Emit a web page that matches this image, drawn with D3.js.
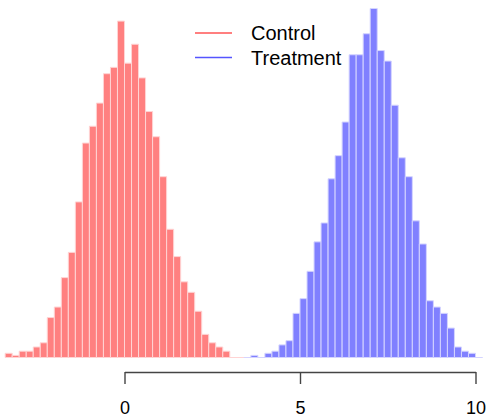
<!DOCTYPE html>
<html>
<head>
<meta charset="utf-8">
<script src="https://cdn.jsdelivr.net/npm/d3@7"></script>
<style>
  body { margin: 0; background: #fff; }
  svg { display: block; font-family: "Liberation Sans", Arial, sans-serif; }
</style>
</head>
<body>
<svg id="chart" width="493" height="418"></svg>
<script>
// histogram bins, width 0.2
const binWidth = 0.2;
const controlStart = -3.4;
const controlCounts = [2, 1, 3, 3, 5, 7, 19, 24, 38, 50, 74, 102, 110, 121, 135, 138, 160,
  140, 149, 133, 117, 105, 86, 61, 48, 36, 31, 22, 11, 7, 5, 3, 0, 0];
const treatmentStart = 3.4;
const treatmentCounts = [0, 1, 0, 2, 3, 6, 8, 21, 28, 41, 55, 64, 85, 96, 112, 144, 144, 154,
  166, 146, 141, 120, 95, 86, 65, 54, 27, 24, 21, 14, 5, 3, 2, 0];
const xTicks = [0, 5, 10];
const legendLabels = ['Control', 'Treatment'];

const svg = d3.select('#chart');

const x = d3.scaleLinear().domain([0, 10]).range([124.5, 475.5]);
const y = d3.scaleLinear().domain([0, 166]).range([357.5, 8.5]);

const toBins = (start, counts) =>
  counts.map((c, i) => ({ x0: start + i * binWidth, x1: start + (i + 1) * binWidth, count: c }));

// paths so that empty bins still show as a flat line
const barPath = d => {
  const x0 = x(d.x0), x1 = x(d.x1), y0 = y(0), y1 = y(d.count);
  return `M${x0},${y0}V${y1}H${x1}V${y0}Z`;
};

const drawHist = (bins, fill, stroke) => {
  svg.append('g')
    .selectAll('path')
    .data(bins)
    .join('path')
    .attr('d', barPath)
    .attr('fill', fill)
    .attr('stroke', stroke)
    .attr('stroke-width', 1);
};

drawHist(toBins(controlStart, controlCounts), '#ff8080', '#ffd4d4');
drawHist(toBins(treatmentStart, treatmentCounts), '#8080ff', '#d4d4ff');

// x axis
const axis = svg.append('g')
  .attr('transform', 'translate(0,372)')
  .call(d3.axisBottom(x).tickValues(xTicks).tickSize(12).tickSizeOuter(0).tickPadding(17));

axis.select('.domain').attr('stroke', '#444').attr('stroke-width', 1.4);
axis.selectAll('.tick line').attr('stroke', '#444').attr('stroke-width', 1.4);
axis.selectAll('.tick text')
  .attr('fill', '#000')
  .style('font-size', '18px')
  .style('font-family', '"Liberation Sans", Arial, sans-serif');

// legend
const legendColors = ['#ff5555', '#5555ff'];
const legend = svg.append('g');
legendLabels.forEach((label, i) => {
  const ly = 33 + i * 24.5;
  legend.append('line')
    .attr('x1', 195)
    .attr('x2', 232)
    .attr('y1', ly)
    .attr('y2', ly)
    .attr('stroke', legendColors[i])
    .attr('stroke-width', 1.6);
  legend.append('text')
    .attr('x', 251)
    .attr('y', ly + 7.3)
    .style('font-size', '20px')
    .attr('fill', '#000')
    .text(label);
});
</script>
</body>
</html>
